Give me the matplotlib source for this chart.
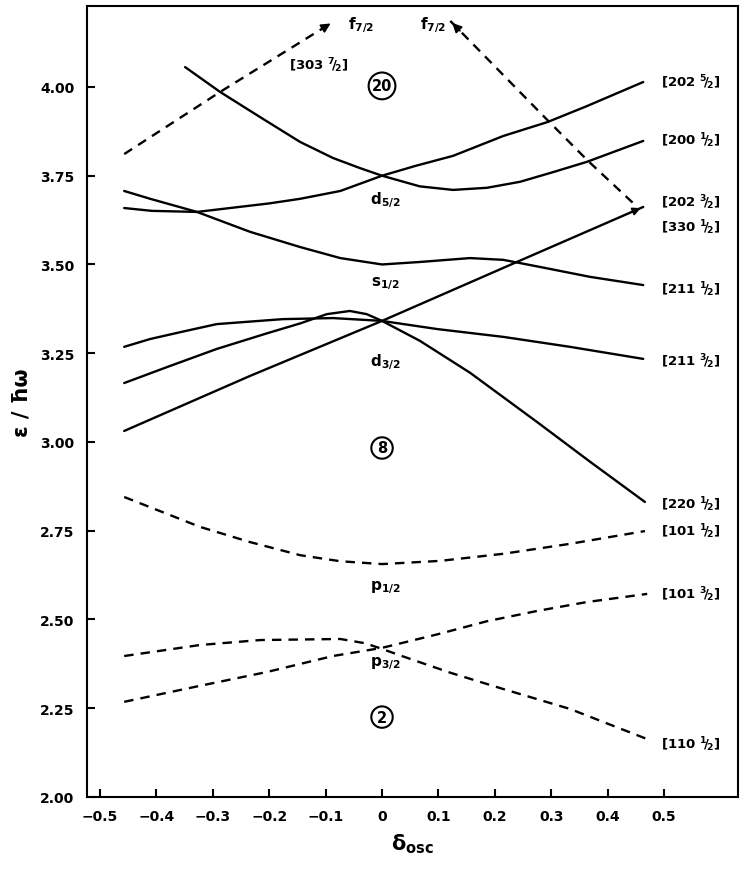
"""Nilsson-type single-particle level diagram (epsilon / hbar omega vs deformation)."""

import matplotlib
matplotlib.use("Agg")
import matplotlib.pyplot as plt

# ---- data -------------------------------------------------------------------
# solid orbitals (sd shell)
a_x = [-0.349, -0.287, -0.216, -0.145, -0.087, -0.040, 0.0, 0.067, 0.126, 0.186, 0.245, 0.303, 0.363, 0.463]
a_y = [4.056, 3.986, 3.915, 3.845, 3.800, 3.772, 3.750, 3.720, 3.710, 3.716, 3.733, 3.760, 3.789, 3.848]

b_x = [-0.457, -0.408, -0.328, -0.264, -0.200, -0.145, -0.074, 0.0, 0.060, 0.126, 0.215, 0.293, 0.363, 0.463]
b_y = [3.659, 3.651, 3.648, 3.660, 3.672, 3.685, 3.707, 3.750, 3.778, 3.806, 3.862, 3.901, 3.946, 4.014]

c_x = [-0.457, -0.411, -0.328, -0.234, -0.145, -0.074, 0.0, 0.067, 0.156, 0.215, 0.280, 0.369, 0.463]
c_y = [3.707, 3.685, 3.648, 3.592, 3.549, 3.518, 3.500, 3.507, 3.518, 3.513, 3.493, 3.465, 3.442]

d_x = [-0.457, -0.411, -0.350, -0.293, -0.176, -0.087, 0.0, 0.098, 0.215, 0.333, 0.463]
d_y = [3.268, 3.290, 3.312, 3.332, 3.346, 3.349, 3.341, 3.318, 3.296, 3.268, 3.234]

e_x = [-0.457, -0.381, -0.293, -0.204, -0.145, -0.098, -0.057, -0.027, 0.0, 0.067, 0.156, 0.275, 0.369, 0.466]
e_y = [3.166, 3.211, 3.262, 3.306, 3.334, 3.360, 3.369, 3.360, 3.341, 3.285, 3.195, 3.056, 2.944, 2.831]

f_x = [-0.457, -0.234, 0.0, 0.239, 0.463]
f_y = [3.031, 3.186, 3.341, 3.507, 3.662]

# dashed orbitals (p shell and intruding f7/2)
g_x = [-0.457, -0.287, -0.087]
g_y = [3.811, 3.986, 4.183]

h_x = [0.121, 0.293, 0.365, 0.445]
h_y = [4.186, 3.907, 3.792, 3.673]

i_x = [-0.457, -0.323, -0.234, -0.145, -0.074, 0.0, 0.103, 0.215, 0.333, 0.466]
i_y = [2.845, 2.761, 2.718, 2.681, 2.664, 2.656, 2.665, 2.685, 2.713, 2.749]

j_x = [-0.457, -0.323, -0.216, -0.074, -0.030, 0.0, 0.037, 0.121, 0.215, 0.333, 0.470]
j_y = [2.397, 2.428, 2.442, 2.445, 2.433, 2.417, 2.396, 2.350, 2.304, 2.248, 2.163]

k_x = [-0.457, -0.323, -0.204, -0.087, 0.0, 0.098, 0.186, 0.275, 0.363, 0.470]
k_y = [2.268, 2.313, 2.352, 2.397, 2.420, 2.458, 2.495, 2.524, 2.549, 2.572]

solid_curves = [(a_x, a_y), (b_x, b_y), (c_x, c_y), (d_x, d_y), (e_x, e_y), (f_x, f_y)]
dashed_curves = [(g_x, g_y), (h_x, h_y), (i_x, i_y), (j_x, j_y), (k_x, k_y)]

# asymptotic labels on the right
right_labels = ["[202 $^5\\!/\\!_2$]", "[200 $^1\\!/\\!_2$]", "[202 $^3\\!/\\!_2$]", "[330 $^1\\!/\\!_2$]",
                "[211 $^1\\!/\\!_2$]", "[211 $^3\\!/\\!_2$]", "[220 $^1\\!/\\!_2$]", "[101 $^1\\!/\\!_2$]",
                "[101 $^3\\!/\\!_2$]", "[110 $^1\\!/\\!_2$]"]
right_label_y = [4.014, 3.851, 3.676, 3.606, 3.431, 3.228, 2.825, 2.749, 2.572, 2.149]

# spherical-shell labels at zero deformation
shell_labels = ["d$_{5/2}$", "s$_{1/2}$", "d$_{3/2}$", "p$_{1/2}$", "p$_{3/2}$"]
shell_label_y = [3.685, 3.450, 3.228, 2.592, 2.380]

magic_numbers = ["20", "8", "2"]
magic_y = [4.003, 2.983, 2.225]

x_ticks = [-0.5, -0.4, -0.3, -0.2, -0.1, 0.0, 0.1, 0.2, 0.3, 0.4, 0.5]
x_tick_labels = ["\u22120.5", "\u22120.4", "\u22120.3", "\u22120.2", "\u22120.1", "0",
                 "0.1", "0.2", "0.3", "0.4", "0.5"]
y_ticks = [2.00, 2.25, 2.50, 2.75, 3.00, 3.25, 3.50, 3.75, 4.00]
y_tick_labels = ["2.00", "2.25", "2.50", "2.75", "3.00", "3.25", "3.50", "3.75", "4.00"]

# ---- figure -------------------------------------------------------------------
plt.rcParams["font.family"] = ["DejaVu Sans"]
plt.rcParams["font.weight"] = "bold"
plt.rcParams["mathtext.default"] = "bf"

fig = plt.figure(figsize=(7.51, 8.79), dpi=100)
ax = fig.add_axes([0.1158, 0.0922, 0.8669, 0.8998])

for xs, ys in solid_curves:
    ax.plot(xs, ys, color="black", linewidth=1.7, solid_capstyle="round", solid_joinstyle="round")
for xs, ys in dashed_curves:
    ax.plot(xs, ys, color="black", linewidth=1.7, linestyle=(0, (4, 3)), dash_joinstyle="round")

# arrowheads on the f7/2 branches
for xs, ys in [(g_x, g_y), (h_x, h_y)]:
    if xs[-1] > xs[0] and ys[-1] > ys[0]:
        tip, tail = (xs[-1], ys[-1]), (xs[-2], ys[-2])
    else:
        tip, tail = (xs[0], ys[0]), (xs[1], ys[1])
    ax.annotate("", xy=tip, xytext=(tip[0] + (tail[0] - tip[0]) * 0.12, tip[1] + (tail[1] - tip[1]) * 0.12),
                arrowprops=dict(arrowstyle="-|>", color="black", lw=1.2, mutation_scale=14))

# small arrowhead where [202 3/2] meets the end of the [330 1/2] branch
ax.annotate("", xy=(f_x[-1], f_y[-1]),
            xytext=(f_x[-1] - (f_x[-1] - f_x[-2]) * 0.12, f_y[-1] - (f_y[-1] - f_y[-2]) * 0.12),
            arrowprops=dict(arrowstyle="-|>", color="black", lw=1.2, mutation_scale=12))

ax.text(-0.06, 4.177, "f$_{7/2}$", fontsize=11, ha="left", va="center")
ax.text(0.067, 4.177, "f$_{7/2}$", fontsize=11, ha="left", va="center")
ax.text(-0.113, 4.062, "[303 $^7\\!/\\!_2$]", fontsize=9.5, ha="center", va="center")

for lab, yv in zip(right_labels, right_label_y):
    ax.text(0.495, yv, lab, fontsize=9.5, ha="left", va="center")

for lab, yv in zip(shell_labels, shell_label_y):
    ax.text(0.006, yv, lab, fontsize=11, ha="center", va="center")

for lab, yv in zip(magic_numbers, magic_y):
    ax.text(0.0, yv, lab, fontsize=10.5, ha="center", va="center",
            bbox=dict(boxstyle="circle,pad=0.22", fc="white", ec="black", lw=1.5))

ax.set_xlim(-0.523, 0.631)
ax.set_ylim(2.00, 4.228)
ax.set_xticks(x_ticks)
ax.set_xticklabels(x_tick_labels)
ax.set_yticks(y_ticks)
ax.set_yticklabels(y_tick_labels)
ax.tick_params(direction="in", length=6, width=1.5, labelsize=10, pad=9)
for side in ax.spines.values():
    side.set_linewidth(1.5)

ax.set_ylabel("\u03b5 / \u0127\u03c9", fontsize=15, fontweight="bold", labelpad=6)
ax.set_xlabel("$\\delta_{osc}$", fontsize=15, labelpad=6)

fig.savefig("out.png", dpi=100)
plt.close(fig)
